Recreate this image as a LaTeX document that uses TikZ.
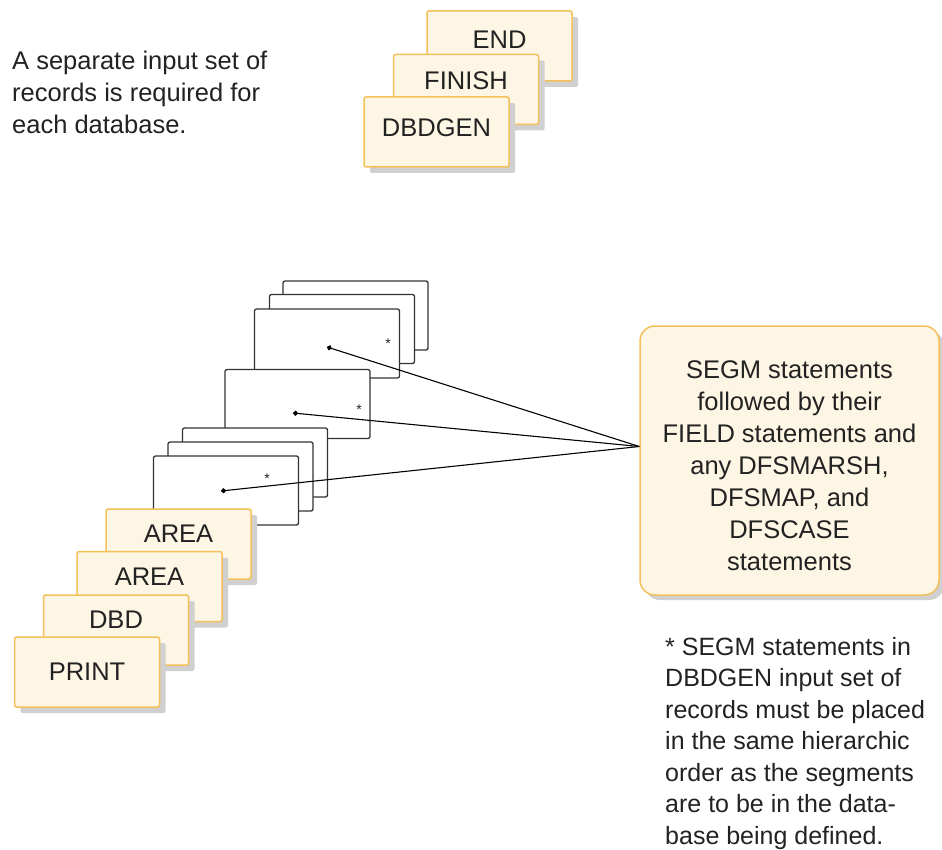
\documentclass[tikz,border=0pt]{standalone}
\usepackage{fontspec}
\setmainfont{Liberation Sans}
\usepackage{tikz}
\usetikzlibrary{positioning}
\usetikzlibrary{shadows}
\usetikzlibrary{arrows.meta}
\definecolor{cardline}{RGB}{244,192,90}
\definecolor{cardfill}{RGB}{254,246,229}
\definecolor{cardshade}{RGB}{208,208,208}
\definecolor{ink}{RGB}{34,34,34}

\begin{document}
\begin{tikzpicture}[x=1pt,y=-1pt,text=ink]
\useasboundingbox (0,0) rectangle (942,850);

\node[anchor=north west,inner sep=0pt,align=left,font=\fontsize{25.5}{32}\selectfont] (intro) at (12,51) {A separate input set of\\records is required for\\each database.};

\begin{scope}[every node/.style={draw=cardline,fill=cardfill,line width=1.5pt,rounded corners=2pt,minimum width=145pt,minimum height=70pt,inner sep=0pt,text height=18pt,font=\fontsize{25.5}{30}\selectfont,drop shadow={shadow xshift=6pt,shadow yshift=-6pt,fill=cardshade,opacity=1}}]
    \node[text depth=12pt] (END) at (499.5,46) {END};
    \node[text depth=17pt] (FINISH) at (466,89.5) {FINISH};
    \node[text depth=8pt] (DBDGEN) at (436.5,132) {DBDGEN};
\end{scope}

\begin{scope}[every node/.style={draw=black!80,fill=white,line width=1.3pt,rounded corners=2pt,minimum width=145pt,minimum height=69pt,inner sep=0pt}]
    \node (segm1) at (355.5,315.5) {};
    \node (segm2) at (342,329) {};
    \node (segm3) at (327,343.5) {};
    
    \node (segm4) at (297.5,404) {};
    
    \node (segm5) at (255,462.5) {};
    \node (segm6) at (240.5,476.5) {};
    \node (segm7) at (226,490.5) {};
\end{scope}

\begin{scope}[every node/.style={inner sep=0pt,font=\fontsize{14}{14}\selectfont}]
    \node (star3) at (388,344) {*};
    \node (star4) at (359,410) {*};
    \node (star7) at (267,479) {*};
\end{scope}

\coordinate (dot3) at (327,347);
\coordinate (dot4) at (293,413);
\coordinate (dot7) at (221,491);

\begin{scope}[every node/.style={draw=cardline,fill=cardfill,line width=1.5pt,rounded corners=2pt,minimum width=145pt,minimum height=70pt,inner sep=0pt,text height=18pt,font=\fontsize{25.5}{30}\selectfont,drop shadow={shadow xshift=6pt,shadow yshift=-6pt,fill=cardshade,opacity=1}}]
    \node[text depth=22pt] (AREA1) at (178.5,544) {AREA};
    \node[text depth=20pt] (AREA2) at (149.5,586.5) {AREA};
    \node[text depth=22pt] (DBD) at (116,630) {DBD};
    \node[text depth=2pt] (PRINT) at (87,672) {PRINT};
\end{scope}

\node[draw=cardline,fill=cardfill,line width=1.5pt,rounded corners=15pt,minimum width=299pt,minimum height=269pt,align=center,font=\fontsize{25.5}{32}\selectfont,drop shadow={shadow xshift=5pt,shadow yshift=-5pt,fill=cardshade,opacity=1}] (stmts) at (789.5,460.5) {\rule{0pt}{29pt}SEGM statements\\followed by their\\FIELD statements and\\any DFSMARSH,\\DFSMAP, and\\DFSCASE\\statements};

\begin{scope}[>={Circle[length=5pt]}]
     \draw [black,<-,line width=1.1pt] (dot3) -- ([yshift=14pt]stmts.west);
     \draw [black,<-,line width=1.1pt] (dot4) -- ([yshift=14pt]stmts.west);
     \draw [black,<-,line width=1.1pt] (dot7) -- ([yshift=14pt]stmts.west);
\end{scope}

\node[anchor=north west,inner sep=0pt,align=left,font=\fontsize{25}{31.5}\selectfont] (note) at (665,637) {* SEGM statements in\\DBDGEN input set of\\records must be placed\\in the same hierarchic\\order as the segments\\are to be in the data-\\base being defined.};

\end{tikzpicture}
\end{document}
